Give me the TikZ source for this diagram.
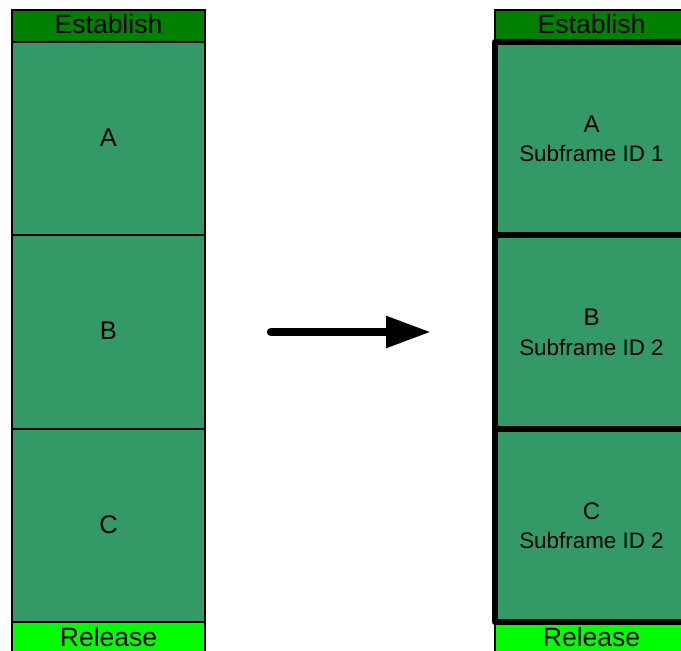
\documentclass[tikz,border=0pt]{standalone}
\usepackage{fontspec}
\setmainfont{Liberation Sans}
\usetikzlibrary{arrows.meta}
\definecolor{framegreen}{HTML}{339966}
\definecolor{estgreen}{HTML}{008000}
\definecolor{relgreen}{HTML}{00FF00}
\begin{document}
\begin{tikzpicture}[x=1pt,y=-1pt,
  cell/.style={draw=black, line width=1.2pt, inner sep=0pt, outer sep=0pt,
    minimum width=193pt, anchor=north west},
  slot/.style={cell, fill=framegreen},
  plain/.style={inner sep=0pt, outer sep=0pt, minimum width=193pt, anchor=north west, fill=framegreen},
  head/.style={anchor=base, inner sep=0pt, font=\fontsize{26.5}{30}\selectfont},
  big/.style={anchor=base, inner sep=0pt, font=\fontsize{25.5}{30}\selectfont},
  mid/.style={anchor=base, inner sep=0pt, font=\fontsize{24}{28}\selectfont},
  small/.style={anchor=base, inner sep=0pt, font=\fontsize{22.4}{26}\selectfont},
  thick frame/.style={draw=black, line width=6.5pt, line join=round}]
\useasboundingbox (0,0) rectangle (681,651);
\clip (0,0) rectangle (681,651);

% original frame
\node[cell, fill=estgreen, minimum height=32pt] (estL) at (12,10) {};
\node[slot, minimum height=193pt] (aL) at (12,42) {};
\node[slot, minimum height=194pt] (bL) at (12,235) {};
\node[slot, minimum height=193pt] (cL) at (12,429) {};
\node[cell, fill=relgreen, minimum height=32pt] (relL) at (12,622) {};
\node[head] (estLt) at (108.5,33.3) {Establish};
\node[big] (aLt) at (108.5,146) {A};
\node[big] (bLt) at (108.5,339.5) {B};
\node[big] (cLt) at (108.5,533) {C};
\node[head] (relLt) at (108.5,646.5) {Release};

% transformation arrow
\coordinate (arrS) at (271,332);
\coordinate (arrE) at (431,332);
\draw[line width=8.5pt, line cap=round, -{Triangle[length=45pt,width=30pt]}] (arrS) -- (arrE);

% split frame with subframe ids
\node[cell, fill=estgreen, minimum height=32pt] (estR) at (495,10) {};
\node[cell, fill=relgreen, minimum height=32pt] (relR) at (495,622) {};
\node[plain, minimum height=193pt] (aR) at (495,42) {};
\node[plain, minimum height=194pt] (bR) at (495,235) {};
\node[plain, minimum height=193pt] (cR) at (495,429) {};
\draw[thick frame] (aR.north west) rectangle (cR.south east);
\draw[thick frame] (bR.north west) -- (bR.north east);
\draw[thick frame] (cR.north west) -- (cR.north east);
\node[head] (estRt) at (591.5,33.3) {Establish};
\node[mid] (aRt) at (591.5,132.3) {A};
\node[small] (aRs) at (591.5,161.7) {Subframe ID 1};
\node[mid] (bRt) at (591.5,325.8) {B};
\node[small] (bRs) at (591.5,355.2) {Subframe ID 2};
\node[mid] (cRt) at (591.5,519.3) {C};
\node[small] (cRs) at (591.5,548.7) {Subframe ID 2};
\node[head] (relRt) at (591.5,646.5) {Release};
\end{tikzpicture}
\end{document}
